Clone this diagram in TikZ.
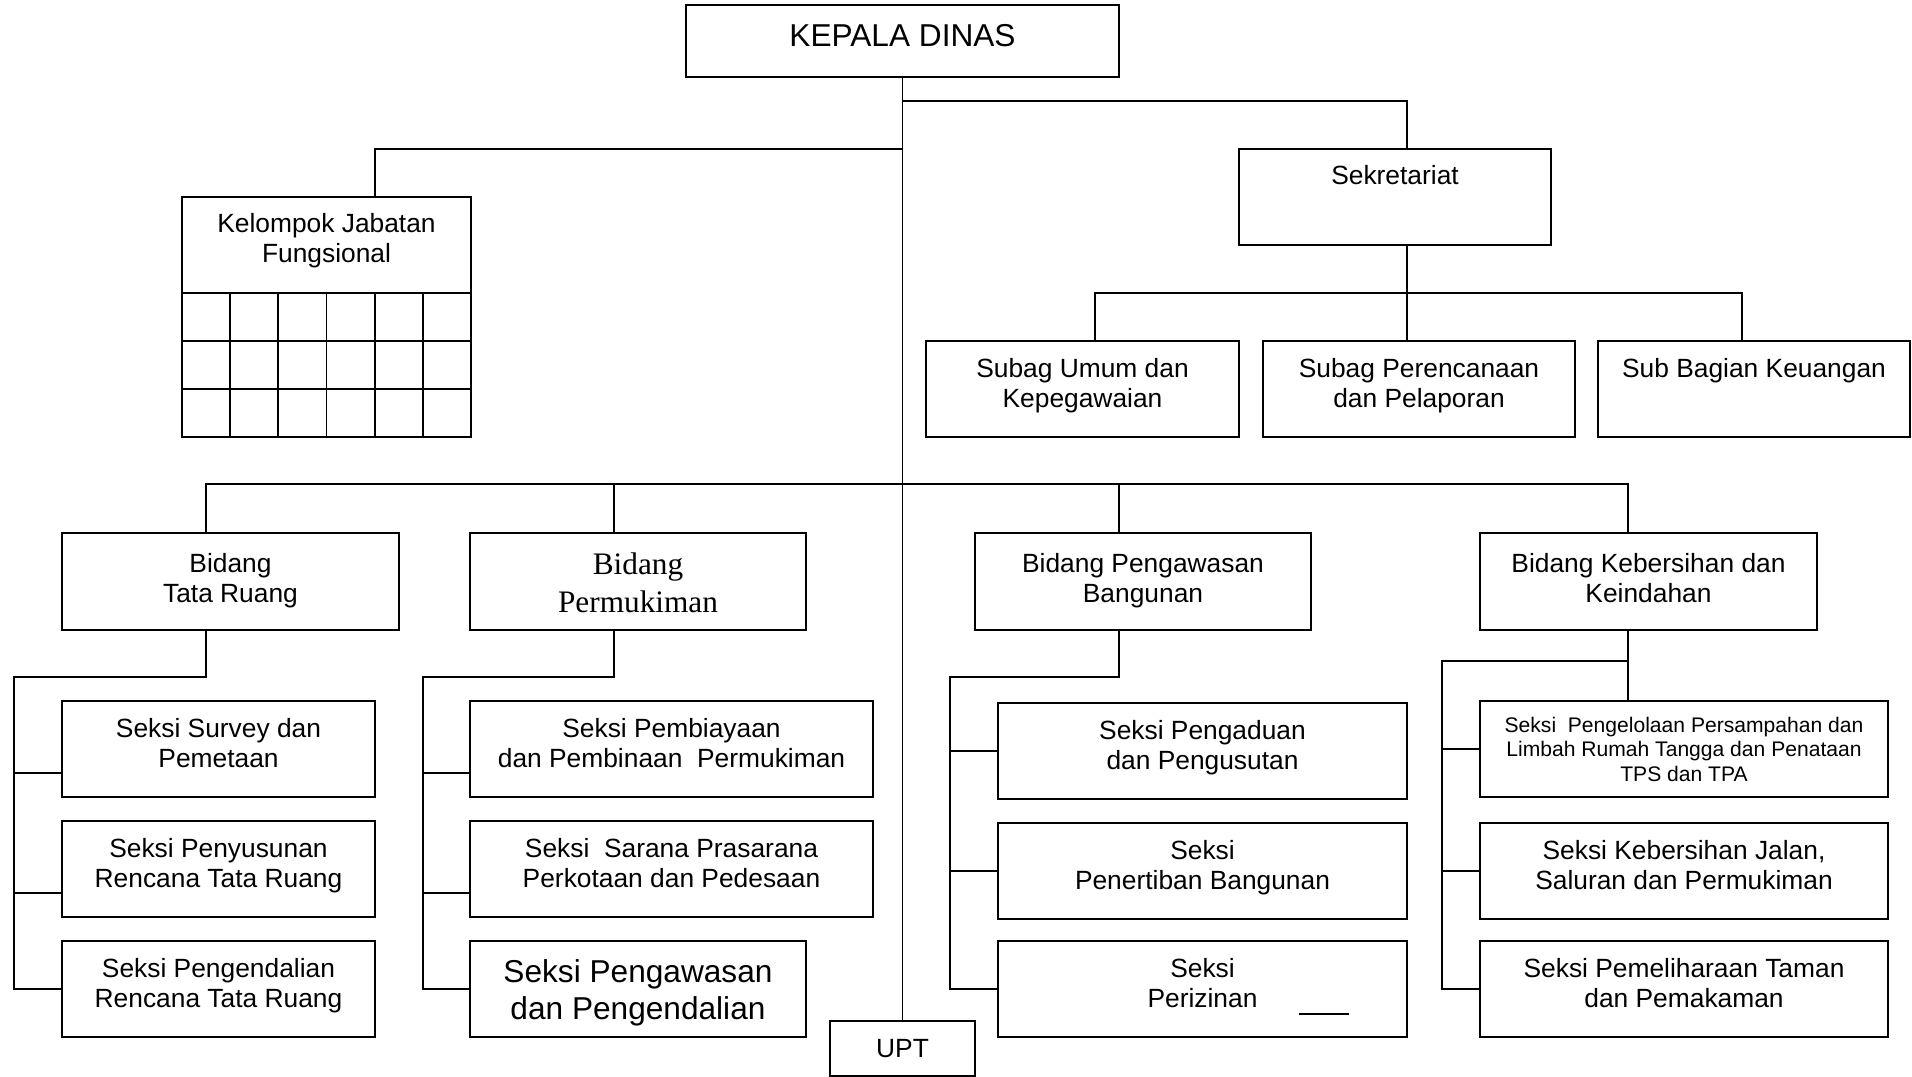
\documentclass[tikz,border=0pt]{standalone}
\usepackage{fontspec}
\setmainfont{Liberation Sans}
\newfontfamily\serifrm{Liberation Serif}
\begin{document}
\begin{tikzpicture}[x=0.2mm,y=-0.2mm,line width=1.1pt,line cap=rect,
    box/.style={draw,inner sep=0pt,minimum height=19.2mm},
    txt/.style={anchor=north,inner sep=0pt,align=center,yshift=-3.4mm,font=\fontsize{15}{17.5}\selectfont}]
\useasboundingbox (0,0) rectangle (1912,1077);

\node[box,minimum width=86.6mm,minimum height=14.4mm,label={[txt,yshift=-0.4mm,font=\fontsize{18}{21}\selectfont]north:KEPALA DINAS}] (kd) at (902.5,41) {};
\node[box,minimum width=57.8mm,minimum height=48mm,label={[txt,yshift=0.2mm]north:Kelompok Jabatan\\Fungsional}] (kjf) at (326.5,317) {};
\node[box,minimum width=62.4mm,label={[txt,yshift=0.2mm]north:Sekretariat}] (sek) at (1395,197) {};
\node[box,minimum width=62.6mm,label={[txt]north:Subag Umum dan\\Kepegawaian}] (su1) at (1082.5,389) {};
\node[box,minimum width=62.4mm,label={[txt]north:Subag Perencanaan\\dan Pelaporan}] (su2) at (1419,389) {};
\node[box,minimum width=62.4mm,label={[txt]north:Sub Bagian Keuangan}] (su3) at (1754,389) {};

\node[box,minimum width=67.4mm,minimum height=19.4mm,label={[txt,yshift=-0.6mm]north:Bidang\\Tata Ruang}] (b1) at (230.5,581.5) {};
\node[box,minimum width=67.2mm,minimum height=19.4mm,label={[txt,yshift=-0.6mm,font=\serifrm\fontsize{17.8}{21.5}\selectfont]north:Bidang\\Permukiman}] (b2) at (638,581.5) {};
\node[box,minimum width=67.2mm,minimum height=19.4mm,label={[txt,yshift=-0.6mm]north:Bidang Pengawasan\\Bangunan}] (b3) at (1143,581.5) {};
\node[box,minimum width=67.4mm,minimum height=19.4mm,label={[txt,yshift=-0.6mm]north:Bidang Kebersihan dan\\Keindahan}] (b4) at (1648.5,581.5) {};

\node[box,minimum width=62.6mm,label={[txt]north:Seksi Survey dan\\Pemetaan}] (s11) at (218.5,749) {};
\node[box,minimum width=62.6mm,label={[txt]north:Seksi Penyusunan\\Rencana Tata Ruang}] (s12) at (218.5,869) {};
\node[box,minimum width=62.6mm,label={[txt]north:Seksi Pengendalian\\Rencana Tata Ruang}] (s13) at (218.5,989) {};
\node[box,minimum width=80.6mm,label={[txt]north:Seksi Pembiayaan\\dan Pembinaan~ Permukiman}] (s21) at (671.5,749) {};
\node[box,minimum width=80.6mm,label={[txt]north:Seksi~ Sarana Prasarana\\Perkotaan dan Pedesaan}] (s22) at (671.5,869) {};
\node[box,minimum width=67.2mm,label={[txt,yshift=-0.4mm,font=\fontsize{18}{20.9}\selectfont]north:Seksi Pengawasan\\dan Pengendalian}] (s23) at (638,989) {};
\node[box,minimum width=81.8mm,label={[txt]north:Seksi Pengaduan\\dan Pengusutan}] (s31) at (1202.5,751) {};
\node[box,minimum width=81.8mm,label={[txt]north:Seksi\\Penertiban Bangunan}] (s32) at (1202.5,871) {};
\node[box,minimum width=81.8mm,label={[txt]north:Seksi\\Perizinan}] (s33) at (1202.5,989) {};
\node[box,minimum width=81.6mm,label={[txt,yshift=0.2mm,font=\fontsize{12}{13.9}\selectfont]north:Seksi~ Pengelolaan Persampahan dan\\Limbah Rumah Tangga dan Penataan\\TPS dan TPA}] (s41) at (1684,749) {};
\node[box,minimum width=81.6mm,label={[txt]north:{Seksi Kebersihan Jalan,\\Saluran dan Permukiman}}] (s42) at (1684,871) {};
\node[box,minimum width=81.6mm,label={[txt]north:Seksi Pemeliharaan Taman\\dan Pemakaman}] (s43) at (1684,989) {};

\node[box,minimum width=29mm,minimum height=11mm,label={[txt,yshift=-0.2mm]north:UPT}] (upt) at (902.5,1048.5) {};

\foreach \y in {293,341,389} \draw (182,\y) -- (471,\y);
\foreach \x in {230.2,278.3,326.5,374.7,422.8} \draw (\x,293) -- (\x,437);
\draw ([shift={(-108,-24)}]s33.south east) -- ++(48,0);

\coordinate (ps) at (1407,101);
\coordinate (pk) at (374.7,149);
\coordinate (pu1) at (1095,293);
\coordinate (pu3) at (1742,293);
\coordinate (pb1) at (206,484);
\coordinate (pb2) at (614,484);
\coordinate (pb3) at (1119,484);
\coordinate (pb4) at (1628,484);
\coordinate (pg1) at (14,677);
\coordinate (pg2) at (423,677);
\coordinate (pg3) at (950,677);
\coordinate (pg4) at (1442,661);

\draw (kd.south) -- (upt.north);
\draw (kd.south |- ps) -- (ps) -- (ps |- sek.north);
\draw (kd.south |- pk) -- (pk) -- (pk |- kjf.north);
\draw (ps |- sek.south) -- (ps |- su2.north);
\draw (pu1 |- su1.north) -- (pu1) -- (pu3) -- (pu3 |- su3.north);
\draw (pb1) -- (pb4);
\foreach \i in {1,...,4} \draw (pb\i) -- (pb\i |- b\i.north);
\foreach \i in {1,2,3} {
  \draw (pb\i |- b\i.south) |- (pg\i);
  \draw (s\i3.west) -| (pg\i);
}
\foreach \i in {1,2} {
  \draw (s\i1.west) ++(0,24) -| (pg\i);
  \draw (s\i2.west) ++(0,24) -| (pg\i);
}
\draw (s31.west) -| (pg3);
\draw (s32.west) -| (pg3);
\draw (pb4 |- b4.south) -- (pb4 |- s41.north);
\draw (pb4 |- pg4) -- (pg4);
\foreach \s in {s41,s42,s43} \draw (\s.west) -| (pg4);
\end{tikzpicture}
\end{document}
